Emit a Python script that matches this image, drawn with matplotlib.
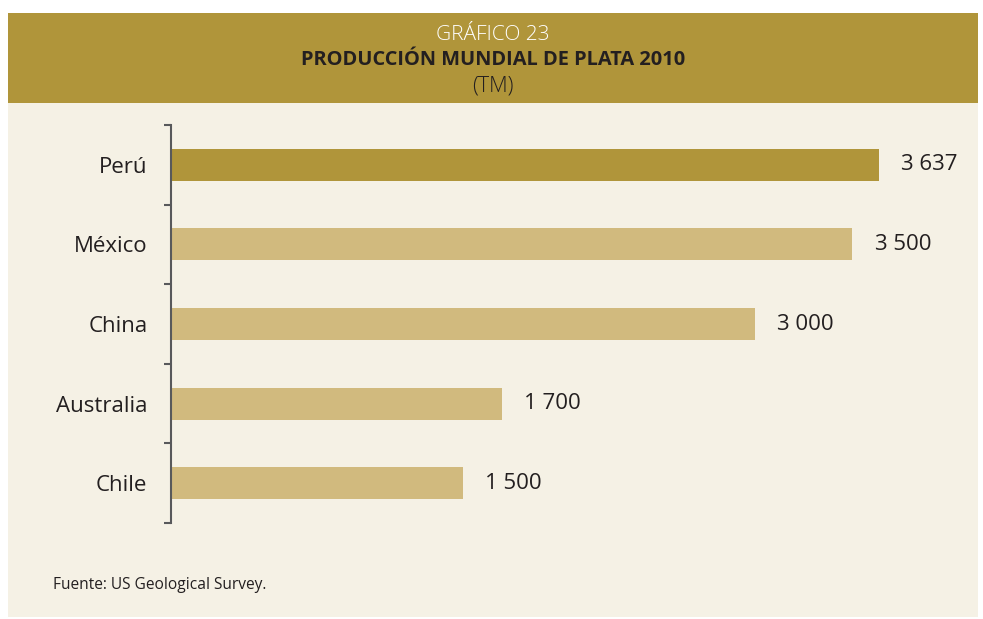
import matplotlib
matplotlib.use("Agg")
import matplotlib.pyplot as plt
from matplotlib.patches import Rectangle

# data
countries = ["Perú", "México", "China", "Australia", "Chile"]
production = [3637, 3500, 3000, 1700, 1500]
highlight = "Perú"

GOLD = "#B0953A"
LIGHT_GOLD = "#D1BA7E"
PANEL = "#F5F1E5"
TEXT = "#231F20"
AXIS = "#58595B"

plt.rcParams["font.family"] = ["Open Sans", "DejaVu Sans"]

fig = plt.figure(figsize=(9.83, 6.19), dpi=100)
fig.patch.set_facecolor("white")

W, H = 983.0, 619.0
# cream panel and gold header band, kept behind the axes
fig.patches.append(Rectangle((8 / W, 1 - 617 / H), 970 / W, 514 / H,
                             transform=fig.transFigure, facecolor=PANEL,
                             edgecolor="none", zorder=-10))
fig.patches.append(Rectangle((8 / W, 1 - 103 / H), 970 / W, 90 / H,
                             transform=fig.transFigure, facecolor=GOLD,
                             edgecolor="none", zorder=-10))

fig.text(493 / W, 1 - 35 / H, "GRÁFICO 23", ha="center", va="center",
         color="white", fontsize=15, fontweight="light")
fig.text(493 / W, 1 - 60 / H, "PRODUCCIÓN MUNDIAL DE PLATA 2010", ha="center",
         va="center", color=TEXT, fontsize=14.4, fontweight="bold")
fig.text(493 / W, 1 - 86 / H, "(TM)", ha="center", va="center",
         color=TEXT, fontsize=15.5, fontweight="light")
fig.text(53 / W, 1 - 585 / H, "Fuente: US Geological Survey.", ha="left",
         va="center", color=TEXT, fontsize=11.2)

xmax = 4000
left_px, right_px = 171, 171 + 708 * xmax / 3637
ax = fig.add_axes([left_px / W, 1 - 523 / H, (right_px - left_px) / W, 398 / H])
ax.patch.set_alpha(0)

ypos = list(range(len(countries)))
colors = [GOLD if c == highlight else LIGHT_GOLD for c in countries]
ax.barh(ypos, production, height=0.4, color=colors, zorder=2)

for y, v in zip(ypos, production):
    label = f"{v:,}".replace(",", " ")
    ax.annotate(label, (v, y), xytext=(16, 0), textcoords="offset points",
                ha="left", va="center", fontsize=16, color=TEXT)

ax.set_xlim(0, xmax)
ax.set_ylim(len(countries) - 0.5, -0.5)
ax.set_yticks(ypos)
ax.set_yticklabels(countries, fontsize=16, color=TEXT)
ax.set_yticks([i - 0.5 for i in range(len(countries) + 1)], minor=True)
ax.tick_params(axis="y", which="major", length=0, pad=17)
ax.tick_params(axis="y", which="minor", length=5, width=1.5, color=AXIS)
ax.set_xticks([])

for side in ["top", "right", "bottom"]:
    ax.spines[side].set_visible(False)
ax.spines["left"].set_color(AXIS)
ax.spines["left"].set_linewidth(1.5)

fig.savefig("out.png", dpi=100, facecolor=fig.get_facecolor())
